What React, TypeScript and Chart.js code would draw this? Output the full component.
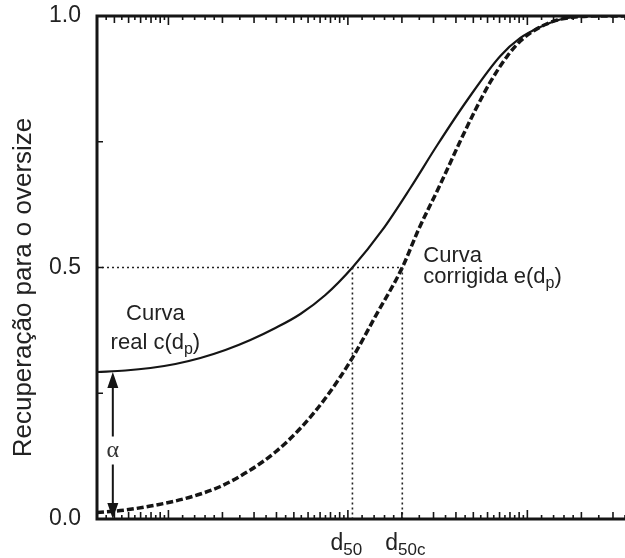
import React, { useEffect, useRef } from 'react';
import { Chart, registerables } from 'chart.js';

Chart.register(...registerables);

// ---- data ----
const realCurveX = [0.4, 0.576, 0.794, 1.094, 1.507, 2.077, 2.862, 3.946, 5.437, 7.49, 10.6, 15.57, 22.29, 31.5, 46.3, 70.7, 91.4, 118.1, 152.7, 197.4, 255.1, 350];
const realCurveY = [0.2922, 0.2952, 0.3002, 0.3082, 0.3201, 0.336, 0.3559, 0.3797, 0.4076, 0.4453, 0.5, 0.5746, 0.6581, 0.7435, 0.833, 0.9205, 0.9563, 0.9781, 0.993, 0.999, 1.0, 1.0];

const corrCurveX = [0.4, 0.576, 0.794, 1.094, 1.507, 1.949, 2.862, 3.946, 5.437, 7.49, 10.6, 14.23, 20.1, 24.7, 32.8, 42.3, 51.3, 62.2, 77.4, 91.4, 108, 126, 147, 185, 255.1, 350];
const corrCurveY = [0.0129, 0.0179, 0.0258, 0.0358, 0.0497, 0.0646, 0.0974, 0.1332, 0.1803, 0.24, 0.3205, 0.4028, 0.5, 0.5746, 0.666, 0.7515, 0.8131, 0.8688, 0.9205, 0.9503, 0.9702, 0.9831, 0.992, 0.998, 1.0, 1.0];

const ALPHA = 0.292;
const D50 = 10.6;
const D50C = 20.1;
const HALF = 0.5;
const X_MIN = 0.4;
const X_MAX = 350;

const yTickValues = [0, 0.5, 1];
const yTickLabels = ['0.0', '0.5', '1.0'];
const yMinorTicks = [0.25, 0.5, 0.75];
const xMantissas = [1, 1.2, 1.4, 1.6, 1.8, 2, 2.5, 3, 3.5, 4, 4.5, 5, 5.5, 6, 6.5, 7, 7.5, 8, 8.5, 9, 9.5];
const xDecades = [0.1, 1, 10, 100];

const yTitle = 'Recuperação para o oversize';
const realLabel1 = 'Curva';
const realLabel2 = 'real c(d';
const corrLabel1 = 'Curva';
const corrLabel2 = 'corrigida e(d';
const subP = 'p';
const alphaLabel = 'α';

const FONT = "Arial, 'Liberation Sans', sans-serif";
const INK = '#151515';

type Part = [string, boolean];

function drawRich(ctx: CanvasRenderingContext2D, parts: Part[], x: number, y: number, align: 'left' | 'center', size: number, subSize: number, subDrop: number) {
  const widths = parts.map(([t, sub]) => {
    ctx.font = `${sub ? subSize : size}px ${FONT}`;
    return ctx.measureText(t).width;
  });
  const total = widths.reduce((a, b) => a + b, 0);
  let cx = align === 'center' ? x - total / 2 : x;
  ctx.textAlign = 'left';
  ctx.textBaseline = 'alphabetic';
  parts.forEach(([t, sub], i) => {
    ctx.font = `${sub ? subSize : size}px ${FONT}`;
    ctx.fillText(t, cx, sub ? y + subDrop : y);
    cx += widths[i];
  });
}

const decorPlugin = {
  id: 'decor',
  afterDatasetsDraw(chart: any) {
    const { ctx, chartArea: a, scales } = chart;
    const x = scales.x;
    const y = scales.y;
    ctx.save();
    ctx.strokeStyle = INK;
    ctx.fillStyle = INK;

    // axis lines
    ctx.lineWidth = 3;
    ctx.beginPath();
    ctx.moveTo(a.left - 1.5, a.top);
    ctx.lineTo(a.right, a.top);
    ctx.moveTo(a.left, a.top);
    ctx.lineTo(a.left, a.bottom);
    ctx.moveTo(a.left - 1.5, a.bottom);
    ctx.lineTo(a.right, a.bottom);
    ctx.stroke();

    // inward x ticks (bottom & top)
    ctx.lineWidth = 1.6;
    ctx.beginPath();
    for (const dec of xDecades) {
      for (const m of xMantissas) {
        const v = m * dec;
        if (v < X_MIN || v > X_MAX) continue;
        const px = x.getPixelForValue(v);
        const len = m === 1 ? 9 : Number.isInteger(m) ? 7 : 4;
        ctx.moveTo(px, a.bottom);
        ctx.lineTo(px, a.bottom - len);
        ctx.moveTo(px, a.top);
        ctx.lineTo(px, a.top + len);
      }
    }
    // inward y ticks
    for (const v of yMinorTicks) {
      const py = y.getPixelForValue(v);
      ctx.moveTo(a.left, py);
      ctx.lineTo(a.left + 6, py);
    }
    ctx.stroke();

    // alpha double arrow
    const ax = x.getPixelForValue(0.49);
    const yTop = y.getPixelForValue(ALPHA);
    const yBot = y.getPixelForValue(0);
    const mid = (yTop + yBot) / 2 + 6;
    const headL = 16;
    const headW = 5.5;
    ctx.lineWidth = 2;
    ctx.beginPath();
    ctx.moveTo(ax, yTop + headL - 2);
    ctx.lineTo(ax, mid - 15);
    ctx.moveTo(ax, mid + 13);
    ctx.lineTo(ax, yBot - headL + 2);
    ctx.stroke();
    ctx.beginPath();
    ctx.moveTo(ax, yTop);
    ctx.lineTo(ax - headW, yTop + headL);
    ctx.lineTo(ax + headW, yTop + headL);
    ctx.closePath();
    ctx.moveTo(ax, yBot);
    ctx.lineTo(ax - headW, yBot - headL);
    ctx.lineTo(ax + headW, yBot - headL);
    ctx.closePath();
    ctx.fill();
    ctx.font = "24px 'Liberation Serif', 'DejaVu Serif', serif";
    ctx.textAlign = 'center';
    ctx.textBaseline = 'middle';
    ctx.fillStyle = '#333';
    ctx.fillText(alphaLabel, ax, mid - 1);

    // y-axis title
    ctx.fillStyle = '#222';
    ctx.save();
    ctx.translate(24, (a.top + a.bottom) / 2 + 20);
    ctx.rotate(-Math.PI / 2);
    ctx.font = `26px ${FONT}`;
    ctx.textAlign = 'center';
    ctx.textBaseline = 'middle';
    ctx.fillText(yTitle, 0, 0);
    ctx.restore();

    // curve labels
    const rx = x.getPixelForValue(0.846);
    drawRich(ctx, [[realLabel1, false]], rx, y.getPixelForValue(0.396), 'center', 22, 16, 5);
    drawRich(ctx, [[realLabel2, false], [subP, true], [')', false]], rx, y.getPixelForValue(0.338), 'center', 22, 16, 5);
    const cxp = x.getPixelForValue(26.3);
    drawRich(ctx, [[corrLabel1, false]], cxp, y.getPixelForValue(0.511), 'left', 22, 16, 5);
    drawRich(ctx, [[corrLabel2, false], [subP, true], [')', false]], cxp, y.getPixelForValue(0.469), 'left', 22, 16, 5);

    // d50 / d50c labels under the axis
    const baseY = a.bottom + 31;
    drawRich(ctx, [['d', false], ['50', true]], x.getPixelForValue(D50) - 22, baseY, 'left', 23, 17, 5);
    drawRich(ctx, [['d', false], ['50c', true]], x.getPixelForValue(D50C) - 17, baseY, 'left', 23, 17, 5);

    ctx.restore();
  },
};

export default function App() {
  const ref = useRef<HTMLCanvasElement>(null);

  useEffect(() => {
    document.body.style.margin = '0';
    const canvas = ref.current;
    if (!canvas) return;
    const toPts = (xs: number[], ys: number[]) => xs.map((v, i) => ({ x: v, y: ys[i] }));
    const dotted = { borderColor: '#222', borderWidth: 1.6, borderDash: [2, 3], pointRadius: 0, fill: false, tension: 0 };
    const chart = new Chart(canvas, {
      type: 'line',
      data: {
        datasets: [
          { label: 'h50', data: [{ x: X_MIN, y: HALF }, { x: D50C, y: HALF }], ...dotted },
          { label: 'v50', data: [{ x: D50, y: HALF }, { x: D50, y: 0 }], ...dotted },
          { label: 'v50c', data: [{ x: D50C, y: HALF }, { x: D50C, y: 0 }], ...dotted },
          {
            label: 'c(dp)',
            data: toPts(realCurveX, realCurveY),
            borderColor: INK,
            borderWidth: 2.2,
            pointRadius: 0,
            fill: false,
            cubicInterpolationMode: 'monotone',
          },
          {
            label: 'e(dp)',
            data: toPts(corrCurveX, corrCurveY),
            borderColor: INK,
            borderWidth: 3.5,
            borderDash: [7, 3],
            pointRadius: 0,
            fill: false,
            cubicInterpolationMode: 'monotone',
          },
        ],
      } as any,
      options: {
        animation: false,
        responsive: false,
        maintainAspectRatio: false,
        parsing: false as any,
        layout: { padding: { top: 16, bottom: 39, left: 0, right: 0 } },
        plugins: { legend: { display: false }, tooltip: { enabled: false } },
        scales: {
          x: { type: 'logarithmic', min: X_MIN, max: X_MAX, display: false },
          y: {
            type: 'linear',
            position: 'left',
            min: 0,
            max: 1,
            grid: { display: false, drawTicks: false },
            border: { display: false },
            afterBuildTicks: (s: any) => {
              s.ticks = yTickValues.map((v) => ({ value: v }));
            },
            afterFit: (s: any) => {
              s.width = 97;
              s.paddingTop = 0;
              s.paddingBottom = 0;
            },
            ticks: {
              padding: 16,
              color: '#222',
              font: { family: FONT, size: 23 },
              callback: (v: any) => yTickLabels[yTickValues.indexOf(Number(v))] ?? '',
            },
          },
        },
      } as any,
      plugins: [decorPlugin],
    });
    return () => chart.destroy();
  }, []);

  return (
    <div style={{ width: 625, height: 558 }}>
      <canvas ref={ref} width={625} height={558} style={{ display: 'block' }} />
    </div>
  );
}
